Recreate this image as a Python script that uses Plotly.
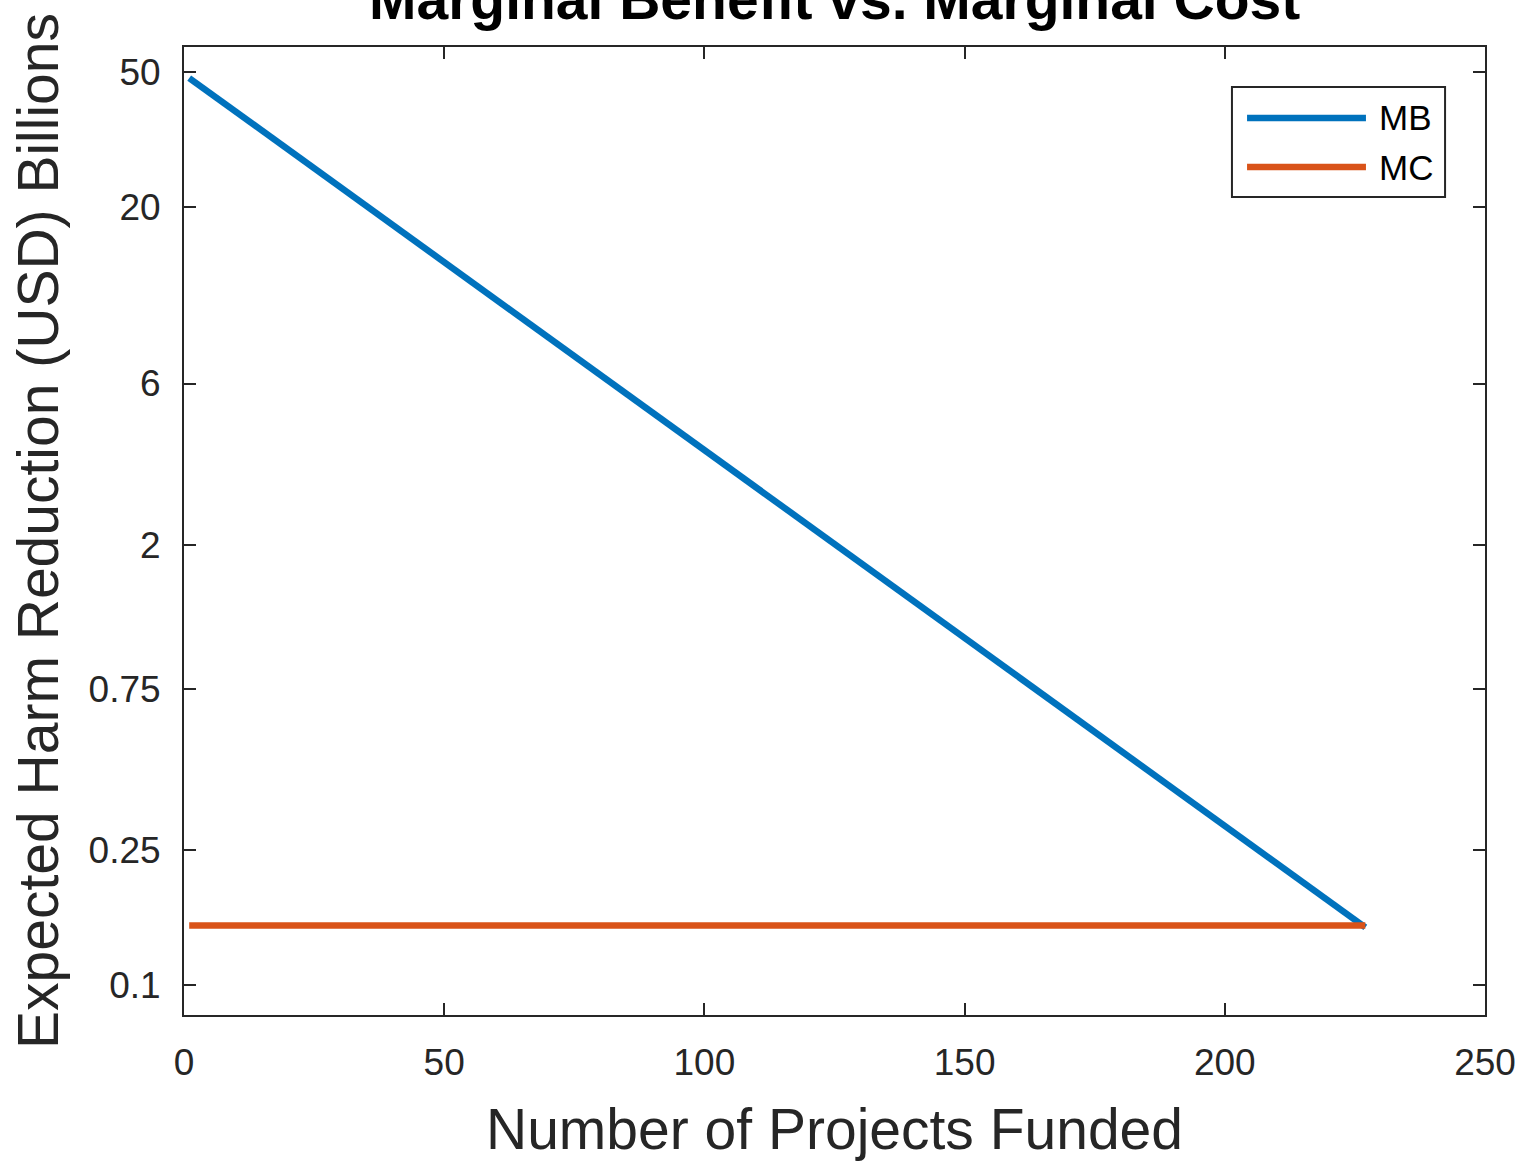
import plotly.graph_objects as go

# Marginal benefit of each additional funded project (billions USD)
mb_projects = [1, 50, 100, 150, 200, 227]
mb_values = [48.0, 13.7, 3.81, 1.06, 0.295, 0.148]

# Marginal cost per project (flat)
mc_projects = [1, 227]
mc_values = [0.15, 0.15]

x_ticks = [0, 50, 100, 150, 200, 250]
y_ticks = [0.1, 0.25, 0.75, 2, 6, 20, 50]
y_tick_text = ["0.1", "0.25", "0.75", "2", "6", "20", "50"]

MB_COLOR = "#0072BD"
MC_COLOR = "#D95319"
AX_COLOR = "#262626"
FONT = "Liberation Sans, Arial, sans-serif"

fig = go.Figure()
fig.add_trace(go.Scatter(x=mb_projects, y=mb_values, mode="lines", name="MB",
                         line=dict(color=MB_COLOR, width=6.5)))
fig.add_trace(go.Scatter(x=mc_projects, y=mc_values, mode="lines", name="MC",
                         line=dict(color=MC_COLOR, width=6.5)))

axis_common = dict(
    showline=True, linecolor=AX_COLOR, linewidth=2, mirror="ticks",
    ticks="inside", ticklen=12, tickwidth=2, tickcolor=AX_COLOR,
    showgrid=False, zeroline=False,
    tickfont=dict(family=FONT, size=37, color=AX_COLOR),
)

fig.update_xaxes(
    range=[0, 250], tickvals=x_ticks, ticktext=[str(v) for v in x_ticks],
    title=dict(text="Number of Projects Funded",
               font=dict(family=FONT, size=57, color=AX_COLOR), standoff=28),
    ticklabelstandoff=14,
    **axis_common,
)
fig.update_yaxes(
    type="log", range=[-1.0887, 1.7729], tickvals=y_ticks, ticktext=y_tick_text,
    title=dict(text="Expected Harm Reduction (USD) Billions",
               font=dict(family=FONT, size=57, color=AX_COLOR), standoff=12),
    ticklabelstandoff=14,
    **axis_common,
)

# Legend box drawn as shapes so the sample lines are long
leg_x0, leg_x1, leg_y0, leg_y1 = 0.8055, 0.9693, 0.845, 0.9587
line_x0, line_x1 = 0.8171, 0.9085
text_x = 0.9170
entries = [("MB", MB_COLOR, 0.9267), ("MC", MC_COLOR, 0.876)]

shapes = [dict(type="rect", xref="paper", yref="paper",
               x0=leg_x0, x1=leg_x1, y0=leg_y0, y1=leg_y1,
               line=dict(color=AX_COLOR, width=2), fillcolor="white", layer="above")]
annotations = []
for label, color, yy in entries:
    shapes.append(dict(type="line", xref="paper", yref="paper",
                       x0=line_x0, x1=line_x1, y0=yy, y1=yy,
                       line=dict(color=color, width=6.5), layer="above"))
    annotations.append(dict(text=label, xref="paper", yref="paper", x=text_x, y=yy,
                            xanchor="left", yanchor="middle", showarrow=False,
                            font=dict(family=FONT, size=35, color="#000000")))

annotations.append(dict(text="<b>Marginal Benefit vs. Marginal Cost</b>",
                        xref="paper", yref="paper", x=0.5, y=1,
                        xanchor="center", yanchor="bottom", yshift=14,
                        showarrow=False,
                        font=dict(family=FONT, size=57, color="#000000")))

fig.update_layout(
    width=1522, height=1161,
    margin=dict(l=184, r=37, t=47, b=146, autoexpand=False),
    paper_bgcolor="white", plot_bgcolor="white",
    showlegend=False,
    shapes=shapes, annotations=annotations,
)

fig.write_html("out.html")
